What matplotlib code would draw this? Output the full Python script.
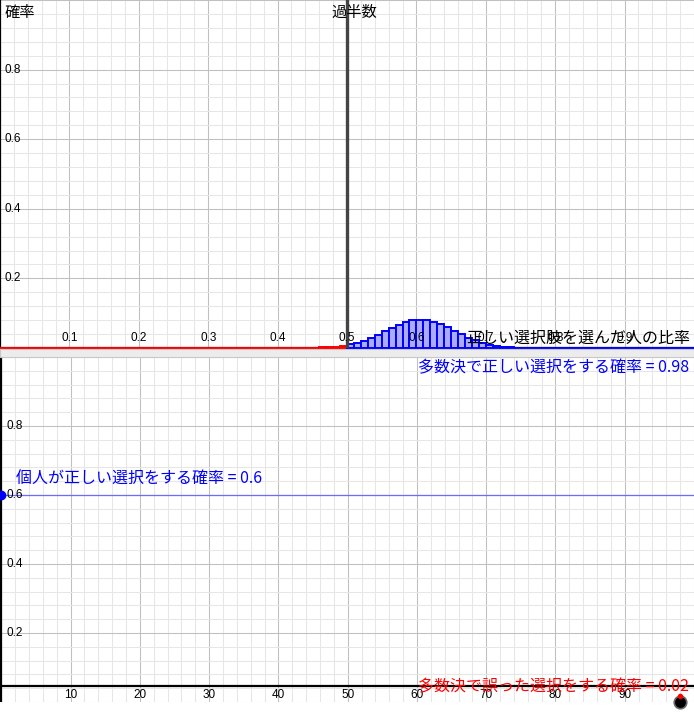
import matplotlib
matplotlib.use('Agg')
from matplotlib import pyplot as plt
from matplotlib.patches import Rectangle
import numpy as np

plt.rcParams['font.family'] = ['Noto Sans CJK JP', 'DejaVu Sans']

n_people = 100
p_individual = 0.6
p_majority_right = 0.98
p_majority_wrong = 0.02
half_mark = 0.5
slider_x = 98

# probability that k of the 100 people choose correctly
wrong_k = list(range(0, 50))
wrong_prob = [0.0] * 40 + [0.00002, 0.00005, 0.00011, 0.00023, 0.00044,
                           0.00083, 0.00149, 0.00256, 0.00424, 0.00676]
right_k = list(range(50, 100))
right_prob = [0.01034, 0.01520, 0.02149, 0.02919, 0.03811, 0.04781, 0.05763,
              0.06673, 0.07421, 0.07924, 0.08122, 0.07989, 0.07538, 0.06820,
              0.05914, 0.04913, 0.03908, 0.02975, 0.02165, 0.01506, 0.01001,
              0.00634, 0.00383, 0.00220, 0.00121, 0.00063, 0.00031, 0.00014,
              0.00006, 0.00003, 0.00001] + [0.0] * 19

top_xticks = [0.1, 0.2, 0.3, 0.4, 0.5, 0.6, 0.7, 0.8, 0.9]
top_yticks = [0.2, 0.4, 0.6, 0.8]
bot_xticks = [10, 20, 30, 40, 50, 60, 70, 80, 90]
bot_yticks = [0.2, 0.4, 0.6, 0.8]

W, H = 694, 714
fig = plt.figure(figsize=(W / 100, H / 100), dpi=100)
fig.patch.set_facecolor('white')

num_font = 'Liberation Sans'


def grid_setup(ax, xmaj, xmin, ymaj, ymin):
    ax.set_xticks(xmaj)
    ax.set_xticks(xmin, minor=True)
    ax.set_yticks(ymaj)
    ax.set_yticks(ymin, minor=True)
    ax.grid(which='minor', color='#e6e6e6', lw=0.75)
    ax.grid(which='major', color='#c0c0c0', lw=0.75)
    ax.set_axisbelow(True)
    ax.tick_params(which='both', length=0, labelbottom=False, labelleft=False)
    for s in ax.spines.values():
        s.set_visible(False)


# ---- top panel: distribution of the proportion choosing correctly ----
ax1 = fig.add_axes([0, 1 - 348 / H, 1, 348 / H])
ax1.set_xlim(0, 1.0)
ax1.set_ylim(0, 1.0)
grid_setup(ax1, np.arange(0, 1.01, 0.1), np.arange(0, 1.01, 0.02),
           np.arange(0, 1.01, 0.2), np.arange(0, 1.01, 0.04))

ax1.axvline(0, color='black', lw=1.6)
ax1.axhline(0, color='black', lw=1.6)
bars_w = ax1.bar(np.array(wrong_k) / n_people, wrong_prob, width=1 / n_people,
                 align='edge', color='#ffabab', edgecolor='#ff0000', lw=1.4, zorder=3)
bars_r = ax1.bar(np.array(right_k) / n_people, right_prob, width=1 / n_people,
                 align='edge', color='#abacff', edgecolor='#0000ff', lw=1.4, zorder=3)
for b in list(bars_w) + list(bars_r):
    b.set_clip_on(False)
ax1.axvline(half_mark, color='#444444', lw=2.4, zorder=4)

for t in top_xticks:
    ax1.text(t, 0.028, f'{t:g}', ha='center', va='center', fontsize=8.5,
             family=num_font, zorder=5)
for t in top_yticks:
    ax1.text(0.007, t, f'{t:g}', ha='left', va='center', fontsize=8.5,
             family=num_font, zorder=5)

ax1.text(0.007, 0.965, '確率', ha='left', va='center', fontsize=11)
ax1.text(0.478, 0.965, '過半数', ha='left', va='center', fontsize=11, zorder=5)
ax1.text(0.994, 0.028, '正しい選択肢を選んだ人の比率', ha='right', va='center',
         fontsize=11.5, zorder=6)

# separator band between the two views
fig.patches.append(Rectangle((0, 1 - 357 / H), 1, 8 / H, transform=fig.transFigure,
                             facecolor='#ececec', edgecolor='#c8c8c8', lw=0.8))

# ---- bottom panel ----
ax2 = fig.add_axes([0, 1 - 702 / H, 1, 345 / H])
ax2.set_xlim(-0.2, 99.8)
ax2.set_ylim(0, 1.0)
grid_setup(ax2, np.arange(0, 101, 10), np.arange(0, 101, 2),
           np.arange(0, 1.01, 0.2), np.arange(0, 1.01, 0.04))

ax2.axvline(0, color='black', lw=1.6)
ax2.axhline(0.046, color='black', lw=1.6)

for t in bot_xticks:
    ax2.text(t, 0.02, f'{t}', ha='center', va='center', fontsize=8.5,
             family=num_font, zorder=5)
for t in bot_yticks:
    ax2.text(0.7, t, f'{t:g}', ha='left', va='center', fontsize=8.5,
             family=num_font, zorder=5)

ax2.axhline(p_individual, color='#6b6bff', lw=0.9)
ax2.plot([0], [p_individual], 'o', color='#0000ff', ms=6, clip_on=False, zorder=6)

ax2.text(2.1, p_individual + 0.046, f'個人が正しい選択をする確率 = {p_individual:g}',
         color='#0000ff', fontsize=11.5, ha='left', va='center')
ax2.text(99.3, 0.968, f'多数決で正しい選択をする確率 = {p_majority_right:g}',
         color='#0000ff', fontsize=11.5, ha='right', va='center')
ax2.text(99.3, 0.045, f'多数決で誤った選択をする確率 = {p_majority_wrong:g}',
         color='#ff0000', fontsize=11.5, ha='right', va='center', zorder=6)

ax2.plot([slider_x], [0], 'o', ms=9, mfc='black', mec='#666666', mew=1.2,
         clip_on=False, zorder=7)
ax2.plot([slider_x], [0.017], 'o', ms=3, color='#ff0000', clip_on=False, zorder=8)

fig.savefig('out.png', dpi=100)
